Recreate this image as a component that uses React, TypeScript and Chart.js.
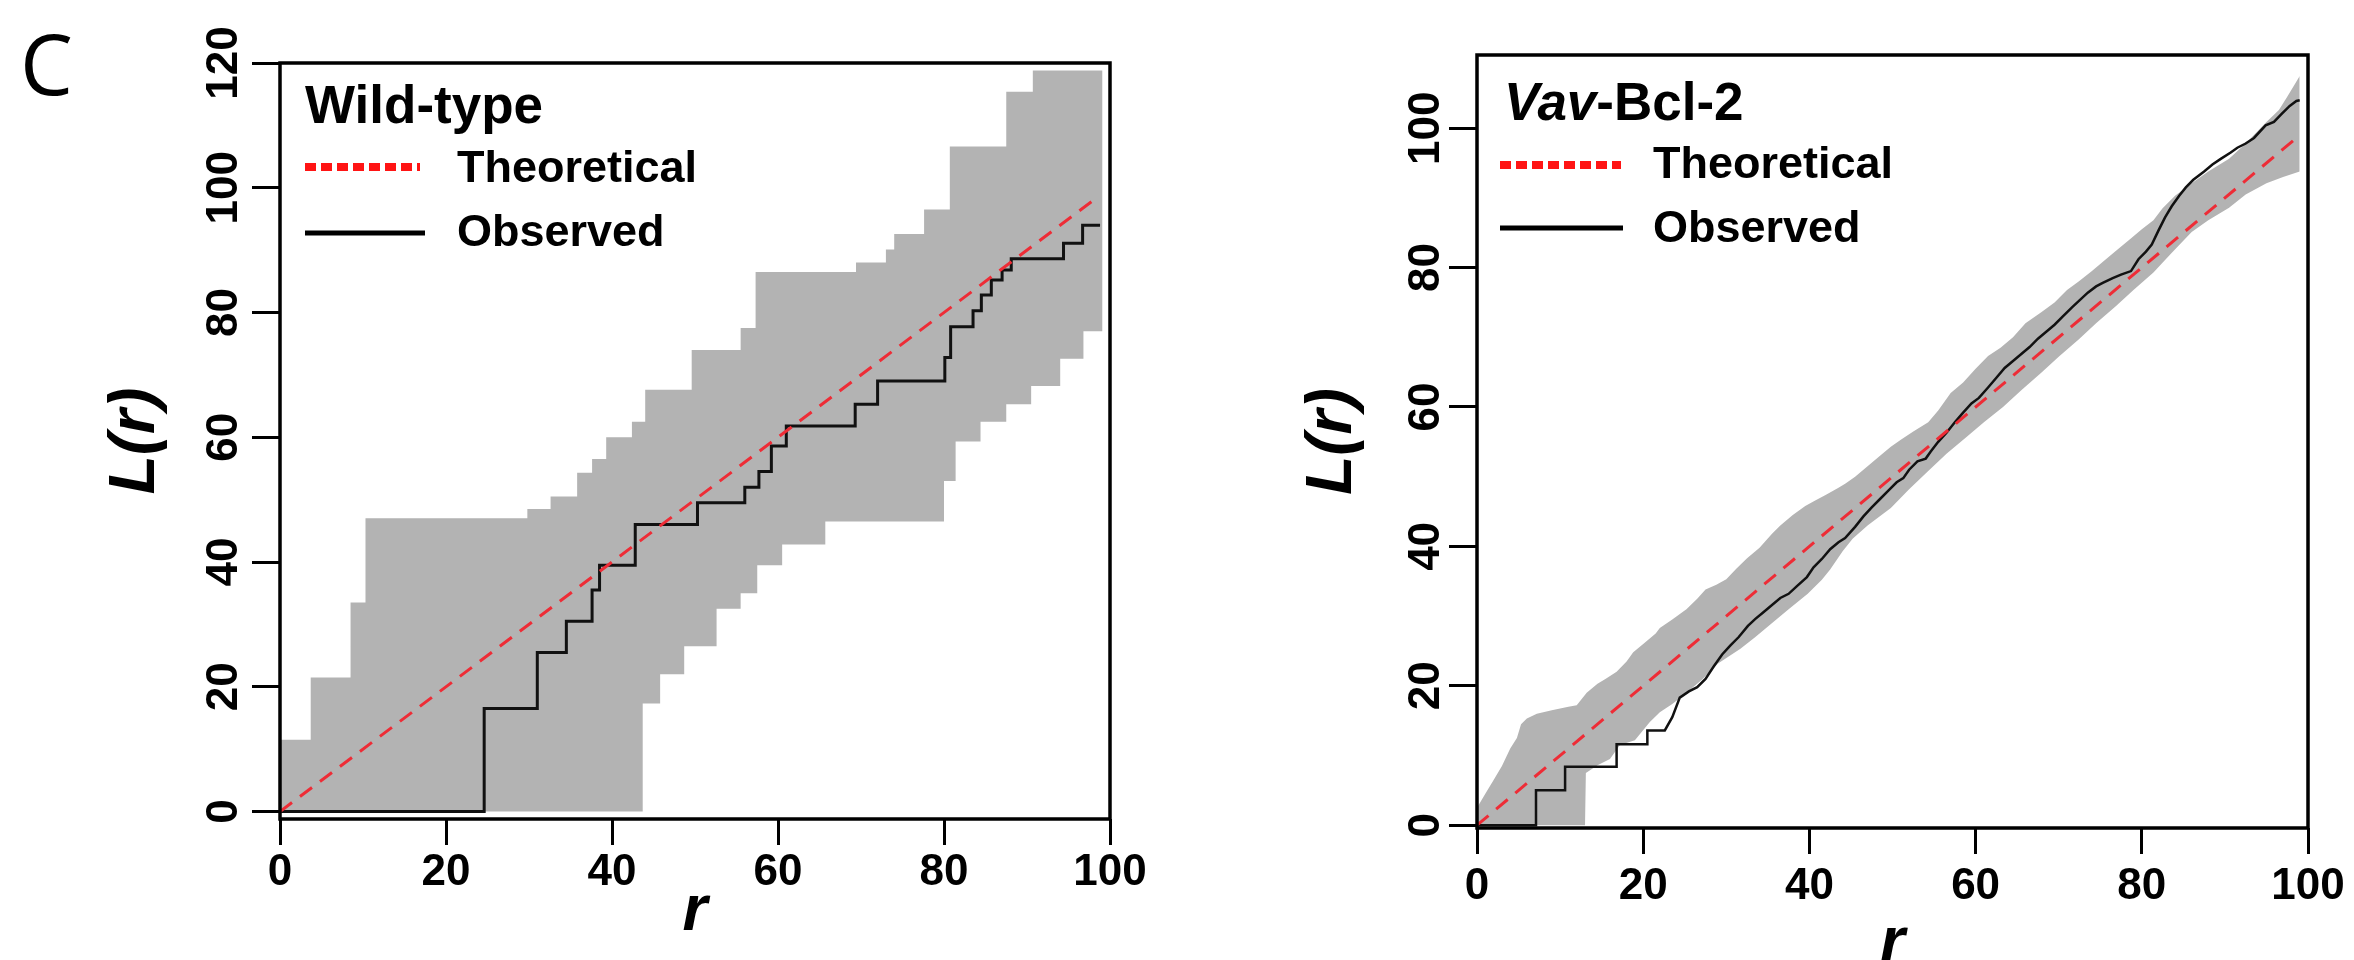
import React, { useEffect, useRef } from 'react';
import { Chart, registerables } from 'chart.js';
Chart.register(...registerables);

const FONT = "'Liberation Sans', Arial, sans-serif";

// ---------- Panel 1: Wild-type ----------
const wtObsR = [0, 24.6, 31, 34.5, 37.6, 38.5, 42.8, 50.3, 56, 57.7, 59.2, 61, 69.3, 72, 80.1, 80.8, 83.5, 84.5, 85.7, 87, 88.1, 94.4, 96.7, 98.8];
const wtObsL = [0, 16.5, 25.5, 30.5, 35.5, 39.5, 46, 49.5, 52, 54.5, 58.6, 61.8, 65.3, 69, 72.8, 77.7, 80.3, 82.8, 85.2, 86.8, 88.6, 91.1, 94, 94];
const wtHiR = [0, 3.7, 8.5, 10.3, 29.8, 32.6, 35.8, 37.6, 39.3, 42.4, 44, 49.6, 55.5, 57.3, 69.4, 73, 74, 77.6, 80.7, 87.5, 90.7, 99.1];
const wtHiL = [11.5, 21.5, 33.5, 47, 48.5, 50.5, 54.3, 56.5, 60, 62.5, 67.6, 74, 77.5, 86.5, 88, 90.1, 92.6, 96.5, 106.6, 115.4, 118.8, 118.8];
const wtLoR = [0, 43.7, 45.8, 48.7, 52.6, 55.5, 57.5, 60.5, 65.7, 80, 81.4, 84.4, 87.5, 90.5, 94, 96.8, 99.1];
const wtLoL = [0, 17.3, 22, 26.5, 32.5, 35, 39.5, 42.8, 46.5, 53, 59.3, 62.5, 65.3, 68.2, 72.6, 77, 77];
const wtTheoR = [0, 98.6];
const wtTheoL = [0, 98.6];

// ---------- Panel 2: Vav-Bcl-2 ----------
const vavObsR = [0, 7.1, 7.1, 10.6, 10.6, 16.8, 16.8, 20.5, 20.5, 22.6, 23.5, 24.4, 25.5, 26.5, 27.5, 28.5, 29.5, 30.5, 31.5, 32.6, 33.5, 34.5, 35.5, 36.5, 37.5, 38.5, 39.7, 40.5, 41.5, 42.5, 43.5, 44.3, 45.5, 46.5, 47.5, 48.5, 49.5, 50.5, 51.3, 52, 53, 54, 54.6, 55.5, 56.5, 57.5, 58.5, 59.5, 60.4, 61.5, 62.5, 63.5, 64.5, 65.5, 66.5, 67.5, 68.5, 69.5, 70.5, 71.6, 72.5, 73.5, 74.5, 75.3, 76.5, 77.5, 78.7, 79.6, 80.5, 81.2, 82, 82.8, 83.6, 84.5, 85.3, 86.2, 87.5, 88.5, 89.5, 90.7, 91.5, 92.5, 93.5, 94.9, 95.9, 96.8, 97.8, 98.6, 99];
const vavObsL = [0, 0, 5, 5, 8.4, 8.4, 11.6, 11.6, 13.6, 13.6, 15.5, 18.3, 19.2, 19.8, 21, 22.8, 24.5, 25.8, 27, 28.6, 29.6, 30.6, 31.6, 32.6, 33.2, 34.3, 35.6, 37, 38.2, 39.6, 40.6, 41.2, 42.8, 44.3, 45.6, 46.8, 48, 49.2, 49.8, 51, 52.2, 52.6, 53.6, 55, 56.3, 57.8, 59.2, 60.5, 61.3, 62.8, 64.2, 65.6, 66.6, 67.6, 68.6, 69.8, 70.8, 71.8, 73, 74.3, 75.3, 76.4, 77.3, 77.8, 78.5, 79, 79.5, 81.2, 82.3, 83.3, 85.3, 87.2, 88.8, 90.3, 91.5, 92.6, 93.8, 94.8, 95.6, 96.5, 97.2, 97.8, 98.6, 100.4, 100.9, 102, 103.2, 103.9, 104];
const vavHiR = [0, 1, 2, 3, 4, 4.8, 5.3, 6, 7.2, 9, 11, 12, 13.2, 14.5, 15.5, 16.8, 18, 18.8, 20, 21.5, 22, 23.5, 25.2, 26.5, 27.5, 28.8, 30, 31.2, 32.5, 34, 35.5, 36.5, 38, 39.5, 40.7, 42, 43.5, 44.3, 45.5, 47, 48.5, 49.8, 51, 52.5, 54.3, 55.5, 57, 58.5, 60, 61.5, 63, 64.5, 66, 67.9, 69.5, 71, 72.4, 74, 75.5, 76.9, 78.5, 80, 81.4, 82.5, 84, 86, 88, 90.5, 92.5, 95, 96.5, 97.5, 98.5, 99];
const vavHiL = [2.5, 4.5, 6.5, 8.5, 11, 12.5, 14.5, 15.3, 16, 16.5, 17, 17.2, 19, 20.3, 21, 22, 23.5, 24.8, 26, 27.5, 28.3, 29.5, 31, 32.5, 33.8, 34.5, 35.3, 36.8, 38.3, 39.8, 41.8, 43, 44.5, 45.8, 46.6, 47.4, 48.4, 49, 50, 51.5, 53, 54.3, 55.3, 56.5, 57.8, 59.5, 62, 63.5, 65.5, 67.3, 68.5, 70, 72, 73.6, 75, 76.8, 78, 79.5, 81, 82.4, 84, 85.5, 86.8, 88.5, 90.3, 92.1, 93.8, 95.6, 97.8, 100.9, 102.6, 104.5, 106.5, 107.5];
const vavLoR = [0, 13, 13.1, 14.5, 16, 17.2, 19, 20.8, 22, 23.5, 25, 27.1, 29, 31.7, 33.5, 35.3, 37.5, 39.8, 41.5, 42.5, 44, 45.2, 47, 49.8, 52, 54.3, 56.5, 58.8, 61, 63.3, 65.5, 67.9, 70, 72.4, 74.5, 76.9, 79, 81.4, 83.5, 86, 88, 90.5, 92.5, 95, 97, 99];
const vavLoL = [0, 0, 7.5, 8.6, 9.5, 11.5, 12.2, 14.8, 16.2, 17.4, 18.8, 20.9, 23.2, 25.3, 27, 28.8, 31, 33.2, 35.2, 36.7, 39.3, 41.1, 43, 45.5, 48.2, 50.8, 53.3, 55.6, 57.8, 60, 62.4, 64.9, 67.2, 69.7, 72, 74.5, 76.8, 79.3, 82, 85.1, 86.8, 88.6, 90.5, 92.1, 93, 93.8];
const vavTheoR = [0, 98.6];
const vavTheoL = [0, 98.6];

const xTicks = [0, 20, 40, 60, 80, 100];
const legendLabels = ['Theoretical', 'Observed'];

const pts = (xs: number[], ys: number[]) => xs.map((x, i) => ({ x, y: ys[i] }));

type Panel = {
  frame: { l: number; t: number; r: number; b: number };
  yMin: number; yMax: number;
  yTickPad: number; xTickPad: number; yTitlePad: number; xTitlePad: number;
  obsWidth: number; obsStepped: boolean; bandStepped: boolean;
  obs: { x: number; y: number }[]; theo: { x: number; y: number }[];
  hi: { x: number; y: number }[]; lo: { x: number; y: number }[];
  title: { text: string; italic: boolean }[];
  lg: { titleX: number; titleY: number; x1: number; x2t: number; x2o: number; theoY: number; obsY: number; textX: number; theoTY: number; obsTY: number };
  letter: boolean;
};

const W = 1177, H = 960;

function makeChart(canvas: HTMLCanvasElement, p: Panel) {
  const framePlugin = {
    id: 'frameBox',
    afterDatasetsDraw(chart: any) {
      const { ctx, chartArea: a } = chart;
      ctx.save();
      ctx.strokeStyle = '#000';
      ctx.lineWidth = 3.5;
      ctx.strokeRect(a.left, a.top, a.right - a.left, a.bottom - a.top);
      ctx.restore();
    },
  };
  const legendPlugin = {
    id: 'innerLegend',
    afterDraw(chart: any) {
      const ctx = chart.ctx as CanvasRenderingContext2D;
      const L = p.lg;
      ctx.save();
      ctx.fillStyle = '#000';
      ctx.textAlign = 'left';
      ctx.textBaseline = 'alphabetic';
      let x = L.titleX;
      for (const part of p.title) {
        ctx.font = `${part.italic ? 'italic ' : ''}bold 53px ${FONT}`;
        ctx.fillText(part.text, x, L.titleY);
        x += ctx.measureText(part.text).width;
      }
      ctx.strokeStyle = '#ff1414';
      ctx.lineWidth = 8;
      ctx.setLineDash([11, 5]);
      ctx.beginPath(); ctx.moveTo(L.x1, L.theoY); ctx.lineTo(L.x2t, L.theoY); ctx.stroke();
      ctx.setLineDash([]);
      ctx.strokeStyle = '#000';
      ctx.lineWidth = 5;
      ctx.beginPath(); ctx.moveTo(L.x1, L.obsY); ctx.lineTo(L.x2o, L.obsY); ctx.stroke();
      ctx.font = `bold 45px ${FONT}`;
      ctx.textBaseline = 'middle';
      ctx.fillText(chart.data.datasets[0].label, L.textX, L.theoTY);
      ctx.fillText(chart.data.datasets[1].label, L.textX, L.obsTY);
      if (p.letter) {
        ctx.font = `84px 'Open Sans', sans-serif`;
        ctx.textBaseline = 'alphabetic';
        ctx.fillText('C', 20, 95);
      }
      ctx.restore();
    },
  };
  const tickFont = { family: FONT, size: 44, weight: 'bold' as const, lineHeight: 1.2 };
  const titleFont = { family: FONT, size: 64, weight: 'bold' as const, style: 'italic' as const, lineHeight: 1 };
  return new Chart(canvas, {
    type: 'line',
    data: {
      datasets: [
        { label: legendLabels[0], data: p.theo, borderColor: 'rgb(238,44,54)', borderWidth: 3, borderDash: [15, 10], pointRadius: 0, fill: false },
        { label: legendLabels[1], data: p.obs, borderColor: '#111', borderWidth: p.obsWidth, stepped: p.obsStepped, pointRadius: 0, fill: false },
        { label: 'hi', data: p.hi, borderColor: 'rgba(0,0,0,0)', borderWidth: 0, backgroundColor: '#b3b3b3', fill: '+1', stepped: p.bandStepped, pointRadius: 0 },
        { label: 'lo', data: p.lo, borderColor: 'rgba(0,0,0,0)', borderWidth: 0, fill: false, stepped: p.bandStepped, pointRadius: 0 },
      ],
    } as any,
    options: {
      animation: false,
      responsive: false,
      devicePixelRatio: 1,
      events: [],
      layout: { padding: { left: 0, top: p.frame.t, right: W - p.frame.r, bottom: 0 } },
      plugins: { legend: { display: false }, tooltip: { enabled: false } },
      scales: {
        x: {
          type: 'linear', min: 0, max: 100,
          afterFit: (s: any) => { s.height = H - p.frame.b; },
          afterBuildTicks: (s: any) => { s.ticks = xTicks.map((v) => ({ value: v })); },
          ticks: { color: '#000', padding: p.xTickPad, maxRotation: 0, minRotation: 0, font: tickFont },
          grid: { drawOnChartArea: false, drawTicks: true, tickLength: 26, tickWidth: 3, tickColor: '#000' },
          border: { display: false },
          title: { display: true, text: 'r', color: '#000', font: titleFont, padding: { top: 0, bottom: p.xTitlePad } },
        },
        y: {
          type: 'linear', min: p.yMin, max: p.yMax,
          afterFit: (s: any) => { s.width = p.frame.l; },
          ticks: { stepSize: 20, includeBounds: false, color: '#000', padding: p.yTickPad, minRotation: 90, maxRotation: 90, crossAlign: 'center', font: tickFont },
          grid: { drawOnChartArea: false, drawTicks: true, tickLength: 28, tickWidth: 3, tickColor: '#000' },
          border: { display: false },
          title: { display: true, text: 'L(r)', color: '#000', font: titleFont, padding: { top: p.yTitlePad, bottom: 0 } },
        },
      },
    } as any,
    plugins: [framePlugin, legendPlugin],
  });
}

const wtPanel: Panel = {
  frame: { l: 280, t: 63, r: 1110, b: 819 },
  yMin: -1.2, yMax: 120,
  yTickPad: -9.7, xTickPad: 1, yTitlePad: 104.5, xTitlePad: 15.6,
  obsWidth: 3, obsStepped: true, bandStepped: true,
  obs: pts(wtObsR, wtObsL), theo: pts(wtTheoR, wtTheoL), hi: pts(wtHiR, wtHiL), lo: pts(wtLoR, wtLoL),
  title: [{ text: 'Wild-type', italic: false }],
  lg: { titleX: 305, titleY: 123, x1: 305, x2t: 420, x2o: 425, theoY: 167, obsY: 233, textX: 457, theoTY: 170, obsTY: 234 },
  letter: true,
};

const vavPanel: Panel = {
  frame: { l: 300, t: 55, r: 1131, b: 828 },
  yMin: -0.4, yMax: 110.5,
  yTickPad: -14.7, xTickPad: 6.6, yTitlePad: 124.5, xTitlePad: -16.4,
  obsWidth: 2.5, obsStepped: false, bandStepped: false,
  obs: pts(vavObsR, vavObsL), theo: pts(vavTheoR, vavTheoL), hi: pts(vavHiR, vavHiL), lo: pts(vavLoR, vavLoL),
  title: [{ text: 'Vav', italic: true }, { text: '-Bcl-2', italic: false }],
  lg: { titleX: 327, titleY: 120, x1: 323, x2t: 444, x2o: 446, theoY: 165, obsY: 228, textX: 476, theoTY: 166, obsTY: 230 },
  letter: false,
};

export default function App() {
  const r1 = useRef<HTMLCanvasElement>(null);
  const r2 = useRef<HTMLCanvasElement>(null);
  useEffect(() => {
    const c1 = makeChart(r1.current as HTMLCanvasElement, wtPanel);
    const c2 = makeChart(r2.current as HTMLCanvasElement, vavPanel);
    return () => { c1.destroy(); c2.destroy(); };
  }, []);
  return (
    <div style={{ position: 'absolute', left: 0, top: 0, width: 2354, height: 960, background: '#fff', overflow: 'hidden' }}>
      <canvas ref={r1} width={W} height={H} style={{ position: 'absolute', left: 0, top: 0, width: W, height: H }} />
      <canvas ref={r2} width={W} height={H} style={{ position: 'absolute', left: 1177, top: 0, width: W, height: H }} />
    </div>
  );
}
